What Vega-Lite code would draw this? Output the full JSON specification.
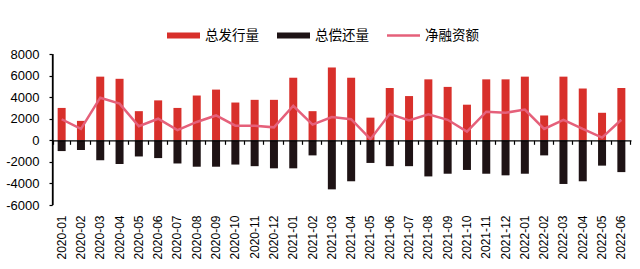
{
  "$schema": "https://vega.github.io/schema/vega-lite/v6.json",
  "autosize": {"type": "none"},
  "width": 579,
  "height": 151,
  "padding": {"left": 52, "top": 54, "right": 9, "bottom": 64},
  "background": "white",
  "config": {
    "view": {"stroke": null},
    "font": "Liberation Sans",
    "axis": {"labelFont": "Liberation Sans", "labelColor": "#000", "domainColor": "#000", "tickColor": "#000", "grid": false, "title": null},
    "axisY": {"domain": true, "ticks": true, "domainWidth": 1.3, "labelOverlap": false, "labelFontSize": 13, "tickSize": 3, "tickWidth": 1.2, "labelPadding": 10, "zindex": 1}
  },
  "data": {"values": [
    {"m":"2020-01","s":"总发行量","v":3000},{"m":"2020-02","s":"总发行量","v":1800},{"m":"2020-03","s":"总发行量","v":5900},{"m":"2020-04","s":"总发行量","v":5700},{"m":"2020-05","s":"总发行量","v":2700},{"m":"2020-06","s":"总发行量","v":3700},{"m":"2020-07","s":"总发行量","v":3000},{"m":"2020-08","s":"总发行量","v":4150},{"m":"2020-09","s":"总发行量","v":4700},{"m":"2020-10","s":"总发行量","v":3500},{"m":"2020-11","s":"总发行量","v":3750},{"m":"2020-12","s":"总发行量","v":3750},{"m":"2021-01","s":"总发行量","v":5800},{"m":"2021-02","s":"总发行量","v":2700},{"m":"2021-03","s":"总发行量","v":6750},{"m":"2021-04","s":"总发行量","v":5800},{"m":"2021-05","s":"总发行量","v":2100},{"m":"2021-06","s":"总发行量","v":4850},{"m":"2021-07","s":"总发行量","v":4100},{"m":"2021-08","s":"总发行量","v":5650},{"m":"2021-09","s":"总发行量","v":4950},{"m":"2021-10","s":"总发行量","v":3300},{"m":"2021-11","s":"总发行量","v":5650},{"m":"2021-12","s":"总发行量","v":5650},{"m":"2022-01","s":"总发行量","v":5900},{"m":"2022-02","s":"总发行量","v":2300},{"m":"2022-03","s":"总发行量","v":5900},{"m":"2022-04","s":"总发行量","v":4800},{"m":"2022-05","s":"总发行量","v":2550},{"m":"2022-06","s":"总发行量","v":4850},
    {"m":"2020-01","s":"总偿还量","v":-1000},{"m":"2020-02","s":"总偿还量","v":-900},{"m":"2020-03","s":"总偿还量","v":-1850},{"m":"2020-04","s":"总偿还量","v":-2200},{"m":"2020-05","s":"总偿还量","v":-1500},{"m":"2020-06","s":"总偿还量","v":-1650},{"m":"2020-07","s":"总偿还量","v":-2150},{"m":"2020-08","s":"总偿还量","v":-2450},{"m":"2020-09","s":"总偿还量","v":-2450},{"m":"2020-10","s":"总偿还量","v":-2250},{"m":"2020-11","s":"总偿还量","v":-2400},{"m":"2020-12","s":"总偿还量","v":-2600},{"m":"2021-01","s":"总偿还量","v":-2600},{"m":"2021-02","s":"总偿还量","v":-1400},{"m":"2021-03","s":"总偿还量","v":-4550},{"m":"2021-04","s":"总偿还量","v":-3800},{"m":"2021-05","s":"总偿还量","v":-2100},{"m":"2021-06","s":"总偿还量","v":-2400},{"m":"2021-07","s":"总偿还量","v":-2400},{"m":"2021-08","s":"总偿还量","v":-3350},{"m":"2021-09","s":"总偿还量","v":-3100},{"m":"2021-10","s":"总偿还量","v":-2750},{"m":"2021-11","s":"总偿还量","v":-3100},{"m":"2021-12","s":"总偿还量","v":-3250},{"m":"2022-01","s":"总偿还量","v":-3100},{"m":"2022-02","s":"总偿还量","v":-1400},{"m":"2022-03","s":"总偿还量","v":-4050},{"m":"2022-04","s":"总偿还量","v":-3800},{"m":"2022-05","s":"总偿还量","v":-2350},{"m":"2022-06","s":"总偿还量","v":-2950},
    {"m":"2020-01","s":"净融资额","v":1950},{"m":"2020-02","s":"净融资额","v":1050},{"m":"2020-03","s":"净融资额","v":3950},{"m":"2020-04","s":"净融资额","v":3400},{"m":"2020-05","s":"净融资额","v":1300},{"m":"2020-06","s":"净融资额","v":2000},{"m":"2020-07","s":"净融资额","v":950},{"m":"2020-08","s":"净融资额","v":1700},{"m":"2020-09","s":"净融资额","v":2300},{"m":"2020-10","s":"净融资额","v":1350},{"m":"2020-11","s":"净融资额","v":1350},{"m":"2020-12","s":"净融资额","v":1200},{"m":"2021-01","s":"净融资额","v":3200},{"m":"2021-02","s":"净融资额","v":1450},{"m":"2021-03","s":"净融资额","v":2150},{"m":"2021-04","s":"净融资额","v":1950},{"m":"2021-05","s":"净融资额","v":100},{"m":"2021-06","s":"净融资额","v":2450},{"m":"2021-07","s":"净融资额","v":1850},{"m":"2021-08","s":"净融资额","v":2400},{"m":"2021-09","s":"净融资额","v":1900},{"m":"2021-10","s":"净融资额","v":800},{"m":"2021-11","s":"净融资额","v":2650},{"m":"2021-12","s":"净融资额","v":2550},{"m":"2022-01","s":"净融资额","v":2850},{"m":"2022-02","s":"净融资额","v":1050},{"m":"2022-03","s":"净融资额","v":1900},{"m":"2022-04","s":"净融资额","v":1050},{"m":"2022-05","s":"净融资额","v":250},{"m":"2022-06","s":"净融资额","v":1900}
  ]},
  "encoding": {
    "y": {"field": "v", "type": "quantitative", "stack": null,
      "scale": {"domain": [-6000, 8000], "nice": false},
      "axis": {"values": [-6000, -4000, -2000, 0, 2000, 4000, 6000, 8000], "labelExpr": "'' + datum.value"}},
    "color": {
      "field": "s", "type": "nominal",
      "scale": {"domain": ["总发行量", "总偿还量", "净融资额"], "range": ["#d8302b", "#1e1315", "#e5607a"]},
      "legend": {
        "orient": "none", "legendX": 115, "legendY": -35, "direction": "horizontal", "title": null,
        "symbolType": "square", "symbolSize": 1089, "labelFont": "Noto Sans CJK SC", "labelFontSize": 13.5, "labelColor": "#000",
        "labelOffset": 5, "columnPadding": 18,
        "encode": {"symbols": {"update": {
          "shape": {"signal": "datum.value === '净融资额' ? 'M-1,-0.075H1V0.075H-1Z' : 'M-1,-0.18H1V0.18H-1Z'"},
          "fill": {"scale": "color", "field": "value"},
          "strokeWidth": {"value": 0},
          "opacity": {"value": 1}
        }}}
      }
    }
  },
  "layer": [
    {
      "transform": [{"filter": "datum.s !== '净融资额'"}],
      "mark": {"type": "bar", "size": 8},
      "encoding": {
        "x": {"field": "m", "type": "ordinal", "sort": null,
          "axis": {"orient": "bottom", "domain": false, "ticks": false, "labelAngle": -90, "labelFontSize": 12, "labelPadding": 10}}
      }
    },
    {
      "transform": [{"filter": "datum.s === '净融资额'"}],
      "mark": {"type": "line", "strokeWidth": 2.5},
      "encoding": {
        "x": {"field": "m", "type": "ordinal", "sort": null,
          "axis": {"orient": "bottom", "offset": -64.7, "labels": false, "tickBand": "extent", "tickSize": 4, "tickWidth": 1.2, "zindex": 1, "domainWidth": 1.3}}
      }
    },
    {
      "transform": [{"filter": "datum.m === '2020-01' && datum.s === '总发行量'"}],
      "mark": {"type": "rule", "strokeWidth": 1.3},
      "encoding": {
        "x": {"datum": "2020-01", "type": "ordinal", "bandPosition": 0, "axis": null},
        "y": {"datum": -6000},
        "y2": {"datum": 8000},
        "color": {"value": "#000"}
      }
    }
  ],
  "resolve": {"axis": {"x": "independent"}}
}
